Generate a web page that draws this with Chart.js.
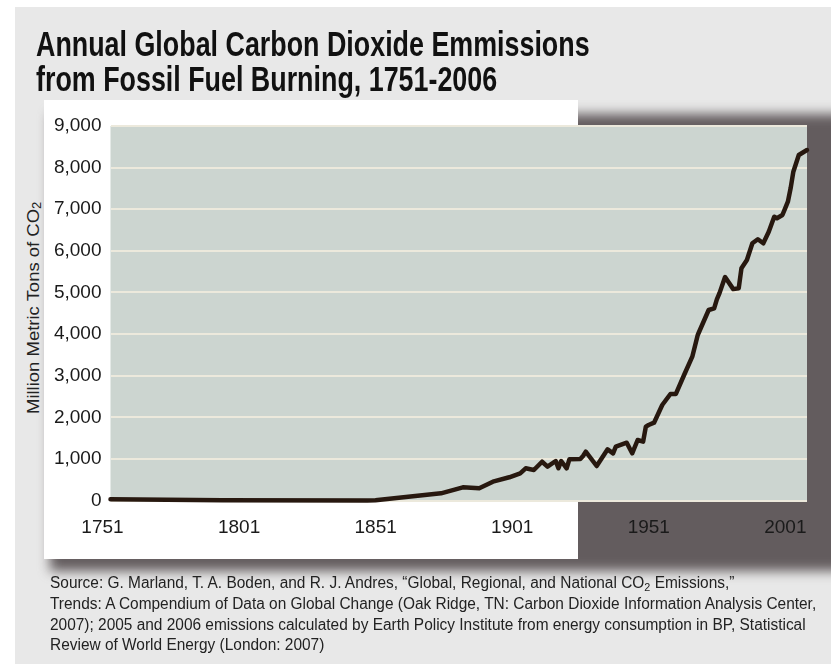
<!DOCTYPE html>
<html>
<head>
<meta charset="utf-8">
<script src="https://cdn.jsdelivr.net/npm/chart.js@4/dist/chart.umd.min.js"></script>
<style>
  html, body { margin: 0; padding: 0; background: #ffffff; }
  #stage { position: relative; width: 831px; height: 664px; overflow: hidden; font-family: "Liberation Sans", Arial, sans-serif; }
  #panel { position: absolute; left: 15px; top: 7px; right: 0; bottom: 0; background: #e8e8e8; }
  #shadow { position: absolute; left: 50px; top: 114px; width: 800px; height: 457px; background: #635c5e; filter: blur(6px); }
  #card { position: absolute; left: 44px; top: 100px; width: 534px; height: 459px; background: #ffffff; }
  .squeeze { transform-origin: 0 0; white-space: nowrap; }
  #title { position: absolute; left: 36px; top: 26px; font-size: 35px; line-height: 35px; font-weight: bold; color: #111; }
  #ytitle { position: absolute; left: 33px; top: 308px; width: 0; height: 0; }
  #ytitle span { position: absolute; left: 0; top: 0; font-size: 17px; line-height: 17px; color: #222; white-space: nowrap; transform-origin: 0 0; }
  sub { font-size: 70%; vertical-align: -0.25em; line-height: 0; }
  #source { position: absolute; left: 50px; top: 573px; font-size: 16px; line-height: 20.8px; color: #222; }
  #chart { position: absolute; left: 0; top: 0; }
</style>
</head>
<body>
<div id="stage">
  <div id="panel"></div>
  <div id="shadow"></div>
  <div id="card"></div>
  <div id="title" class="squeeze">Annual Global Carbon Dioxide Emmissions<br>from Fossil Fuel Burning, 1751-2006</div>
  <div id="ytitle"><span>Million Metric Tons of CO<sub>2</sub></span></div>
  <div id="source" class="squeeze">Source: G. Marland, T. A. Boden, and R. J. Andres, “Global, Regional, and National CO<sub>2</sub> Emissions,”<br>Trends: A Compendium of Data on Global Change (Oak Ridge, TN: Carbon Dioxide Information Analysis Center,<br>2007); 2005 and 2006 emissions calculated by Earth Policy Institute from energy consumption in BP, Statistical<br>Review of World Energy (London: 2007)</div>
  <canvas id="chart" width="831" height="664"></canvas>
</div>
<script>
// Annual emissions, million metric tons
const years = [
  1751, 1792, 1845, 1848, 1872, 1880, 1886, 1891, 1897, 1901,
  1903, 1906, 1909, 1911, 1914, 1915, 1916, 1918, 1919, 1923,
  1924, 1925, 1929, 1933, 1935, 1936, 1940, 1942, 1944, 1946,
  1947, 1948, 1950, 1953, 1956, 1958, 1961, 1964, 1966, 1970,
  1972, 1973, 1974, 1976, 1979, 1981, 1982, 1984, 1986, 1988,
  1990, 1992, 1994, 1995, 1997, 1998, 1999, 2000, 2001, 2003,
  2006
];
const emissions = [
  30, 5, 0, 5, 173, 317, 293, 452, 558, 654,
  774, 733, 932, 812, 949, 774, 949, 774, 990, 997,
  1069, 1173, 829, 1230, 1134, 1293, 1389, 1134, 1454, 1413,
  1774, 1814, 1870, 2295, 2560, 2560, 3016, 3456, 3977, 4578,
  4619, 4835, 4990, 5370, 5080, 5100, 5580, 5780, 6181, 6277,
  6181, 6460, 6820, 6782, 6861, 7022, 7181, 7503, 7902, 8303,
  8423
];
const yearTicks = [1751, 1801, 1851, 1901, 1951, 2001];
const valueTicks = [0, 1000, 2000, 3000, 4000, 5000, 6000, 7000, 8000, 9000];

// Squeeze text blocks horizontally to a condensed set width
function squeeze(el, width) {
  const k = width / el.scrollWidth;
  el.style.transform = 'scaleX(' + k + ')';
}
squeeze(document.getElementById('title'), 554);
squeeze(document.getElementById('source'), 766);
(function () {
  const s = document.querySelector('#ytitle span');
  const k = 212 / s.scrollWidth;
  const h = s.offsetHeight;
  // rotate so the text reads bottom-to-top, centred on the anchor point
  s.style.transform = 'rotate(-90deg) translate(' + (-106) + 'px,' + (-h / 2) + 'px) scaleX(' + k + ')';
})();

const plotBackground = {
  id: 'plotBackground',
  beforeDraw(chart) {
    const { ctx, chartArea: a } = chart;
    ctx.save();
    ctx.fillStyle = '#ccd5d0';
    ctx.fillRect(a.left, a.top, a.right - a.left, a.bottom - a.top);
    ctx.restore();
  }
};

const tickFont = "'Liberation Sans', Arial, sans-serif";

new Chart(document.getElementById('chart'), {
  type: 'line',
  data: {
    datasets: [{
      data: years.map((y, i) => ({ x: y, y: emissions[i] })),
      borderColor: '#27180f',
      borderWidth: 4.5,
      borderJoinStyle: 'round',
      borderCapStyle: 'round',
      pointRadius: 0,
      tension: 0,
      fill: false,
      clip: false
    }]
  },
  options: {
    responsive: false,
    animation: false,
    devicePixelRatio: 1,
    layout: { padding: { left: 0, top: 126, right: 24, bottom: 123.5 } },
    plugins: { legend: { display: false }, tooltip: { enabled: false } },
    scales: {
      x: {
        type: 'linear',
        min: 1751,
        max: 2006,
        afterFit(scale) { scale.height = 40; },
        afterBuildTicks(scale) { scale.ticks = yearTicks.map(v => ({ value: v })); },
        grid: { display: false, drawTicks: false },
        border: { display: false },
        ticks: {
          padding: 16,
          labelOffset: -8,
          maxRotation: 0,
          autoSkip: false,
          color: '#1a1a1a',
          font: { family: tickFont, size: 19 },
          callback: v => String(v)
        }
      },
      y: {
        min: 0,
        max: 9000,
        afterFit(scale) { scale.width = 110.5; },
        afterBuildTicks(scale) { scale.ticks = valueTicks.map(v => ({ value: v })); },
        grid: { color: '#ece9dc', lineWidth: 2, drawTicks: false },
        border: { display: false },
        ticks: {
          padding: 9,
          color: '#1a1a1a',
          font: { family: tickFont, size: 19 },
          callback: v => v.toLocaleString('en-US')
        }
      }
    }
  },
  plugins: [plotBackground]
});
</script>
</body>
</html>
